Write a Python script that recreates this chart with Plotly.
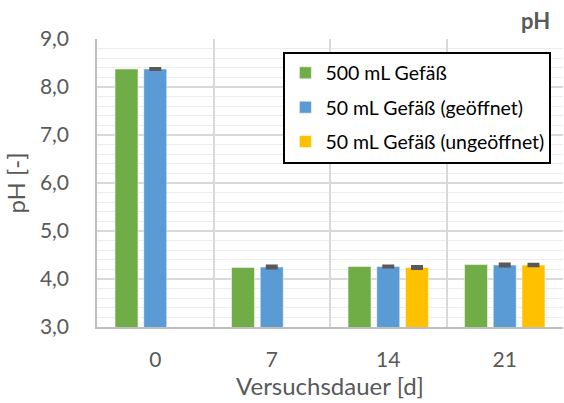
import plotly.graph_objects as go

categories = ["0", "7", "14", "21"]
series_names = ["500 mL Gefäß", "50 mL Gefäß (geöffnet)", "50 mL Gefäß (ungeöffnet)"]
green_vals = [8.375, 4.24, 4.26, 4.30]
blue_vals = [8.375, 4.25, 4.26, 4.29]
blue_err = [0.01, 0.02, 0.01, 0.02]
yellow_vals = [None, None, 4.24, 4.29]
yellow_err = [0, 0, 0.02, 0.015]

colors = ["#70AD47", "#5B9BD5", "#FFC000"]
txt = "#595959"
FONT = "Lato, 'Open Sans', sans-serif"
edge = dict(color="rgba(255,255,255,0.5)", width=1)

fig = go.Figure()
fig.add_trace(go.Bar(x=categories, y=green_vals, name=series_names[0],
                     marker=dict(color=colors[0], line=edge), legendgroup="a"))
fig.add_trace(go.Bar(x=categories, y=blue_vals, name=series_names[1],
                     marker=dict(color=colors[1], line=edge),
                     error_y=dict(type="data", array=blue_err, color="#595959", thickness=3, width=6),
                     legendgroup="b"))
fig.add_trace(go.Bar(x=categories, y=yellow_vals, name=series_names[2],
                     marker=dict(color=colors[2], line=edge),
                     error_y=dict(type="data", array=yellow_err, color="#595959", thickness=3, width=6),
                     legendgroup="c"))

fig.update_layout(
    width=564, height=403,
    margin=dict(l=97, r=1, t=39, b=76),
    paper_bgcolor="white", plot_bgcolor="white",
    font=dict(family=FONT, color=txt, size=18),
    separators=",.",
    barmode="group", bargap=0.26, bargroupgap=0.2,
    showlegend=True,
    legend=dict(x=0.40, y=0.956, xanchor="left", yanchor="top",
                bgcolor="white", bordercolor="black", borderwidth=2,
                font=dict(size=19.5, color="black", family=FONT),
                traceorder="grouped", tracegroupgap=6,
                itemwidth=30),
    xaxis=dict(type="category", tickson="boundaries", showgrid=True,
               gridcolor="#d9d9d9", gridwidth=1.5,
               showline=True, linecolor="#bfbfbf", linewidth=1.5,
               ticks="", ticklabelstandoff=13, tickfont=dict(size=21, color=txt),
               automargin=False,
               title=dict(text="Versuchsdauer [d]", font=dict(size=24, color=txt), standoff=3)),
    yaxis=dict(range=[3, 9], dtick=1, tickformat=".1f",
               showgrid=True, gridcolor="#d9d9d9", gridwidth=1.5,
               minor=dict(dtick=0.2, showgrid=True, gridcolor="#ececec", gridwidth=1),
               showline=True, linecolor="#bfbfbf", linewidth=1.5,
               ticks="", ticklabelstandoff=22, tickfont=dict(size=21, color=txt),
               automargin=False,
               title=dict(text="pH [-]", font=dict(size=24, color=txt), standoff=8)),
    annotations=[dict(text="<b>pH</b>", xref="paper", yref="paper", x=(552 - 97) / 466, y=1.0,
                      xanchor="right", yanchor="bottom", yshift=3, showarrow=False,
                      font=dict(size=22, color=txt, family=FONT))],
)

fig.write_html("out.html", config={"displayModeBar": False},
               post_script="document.body.style.margin='0px';")
